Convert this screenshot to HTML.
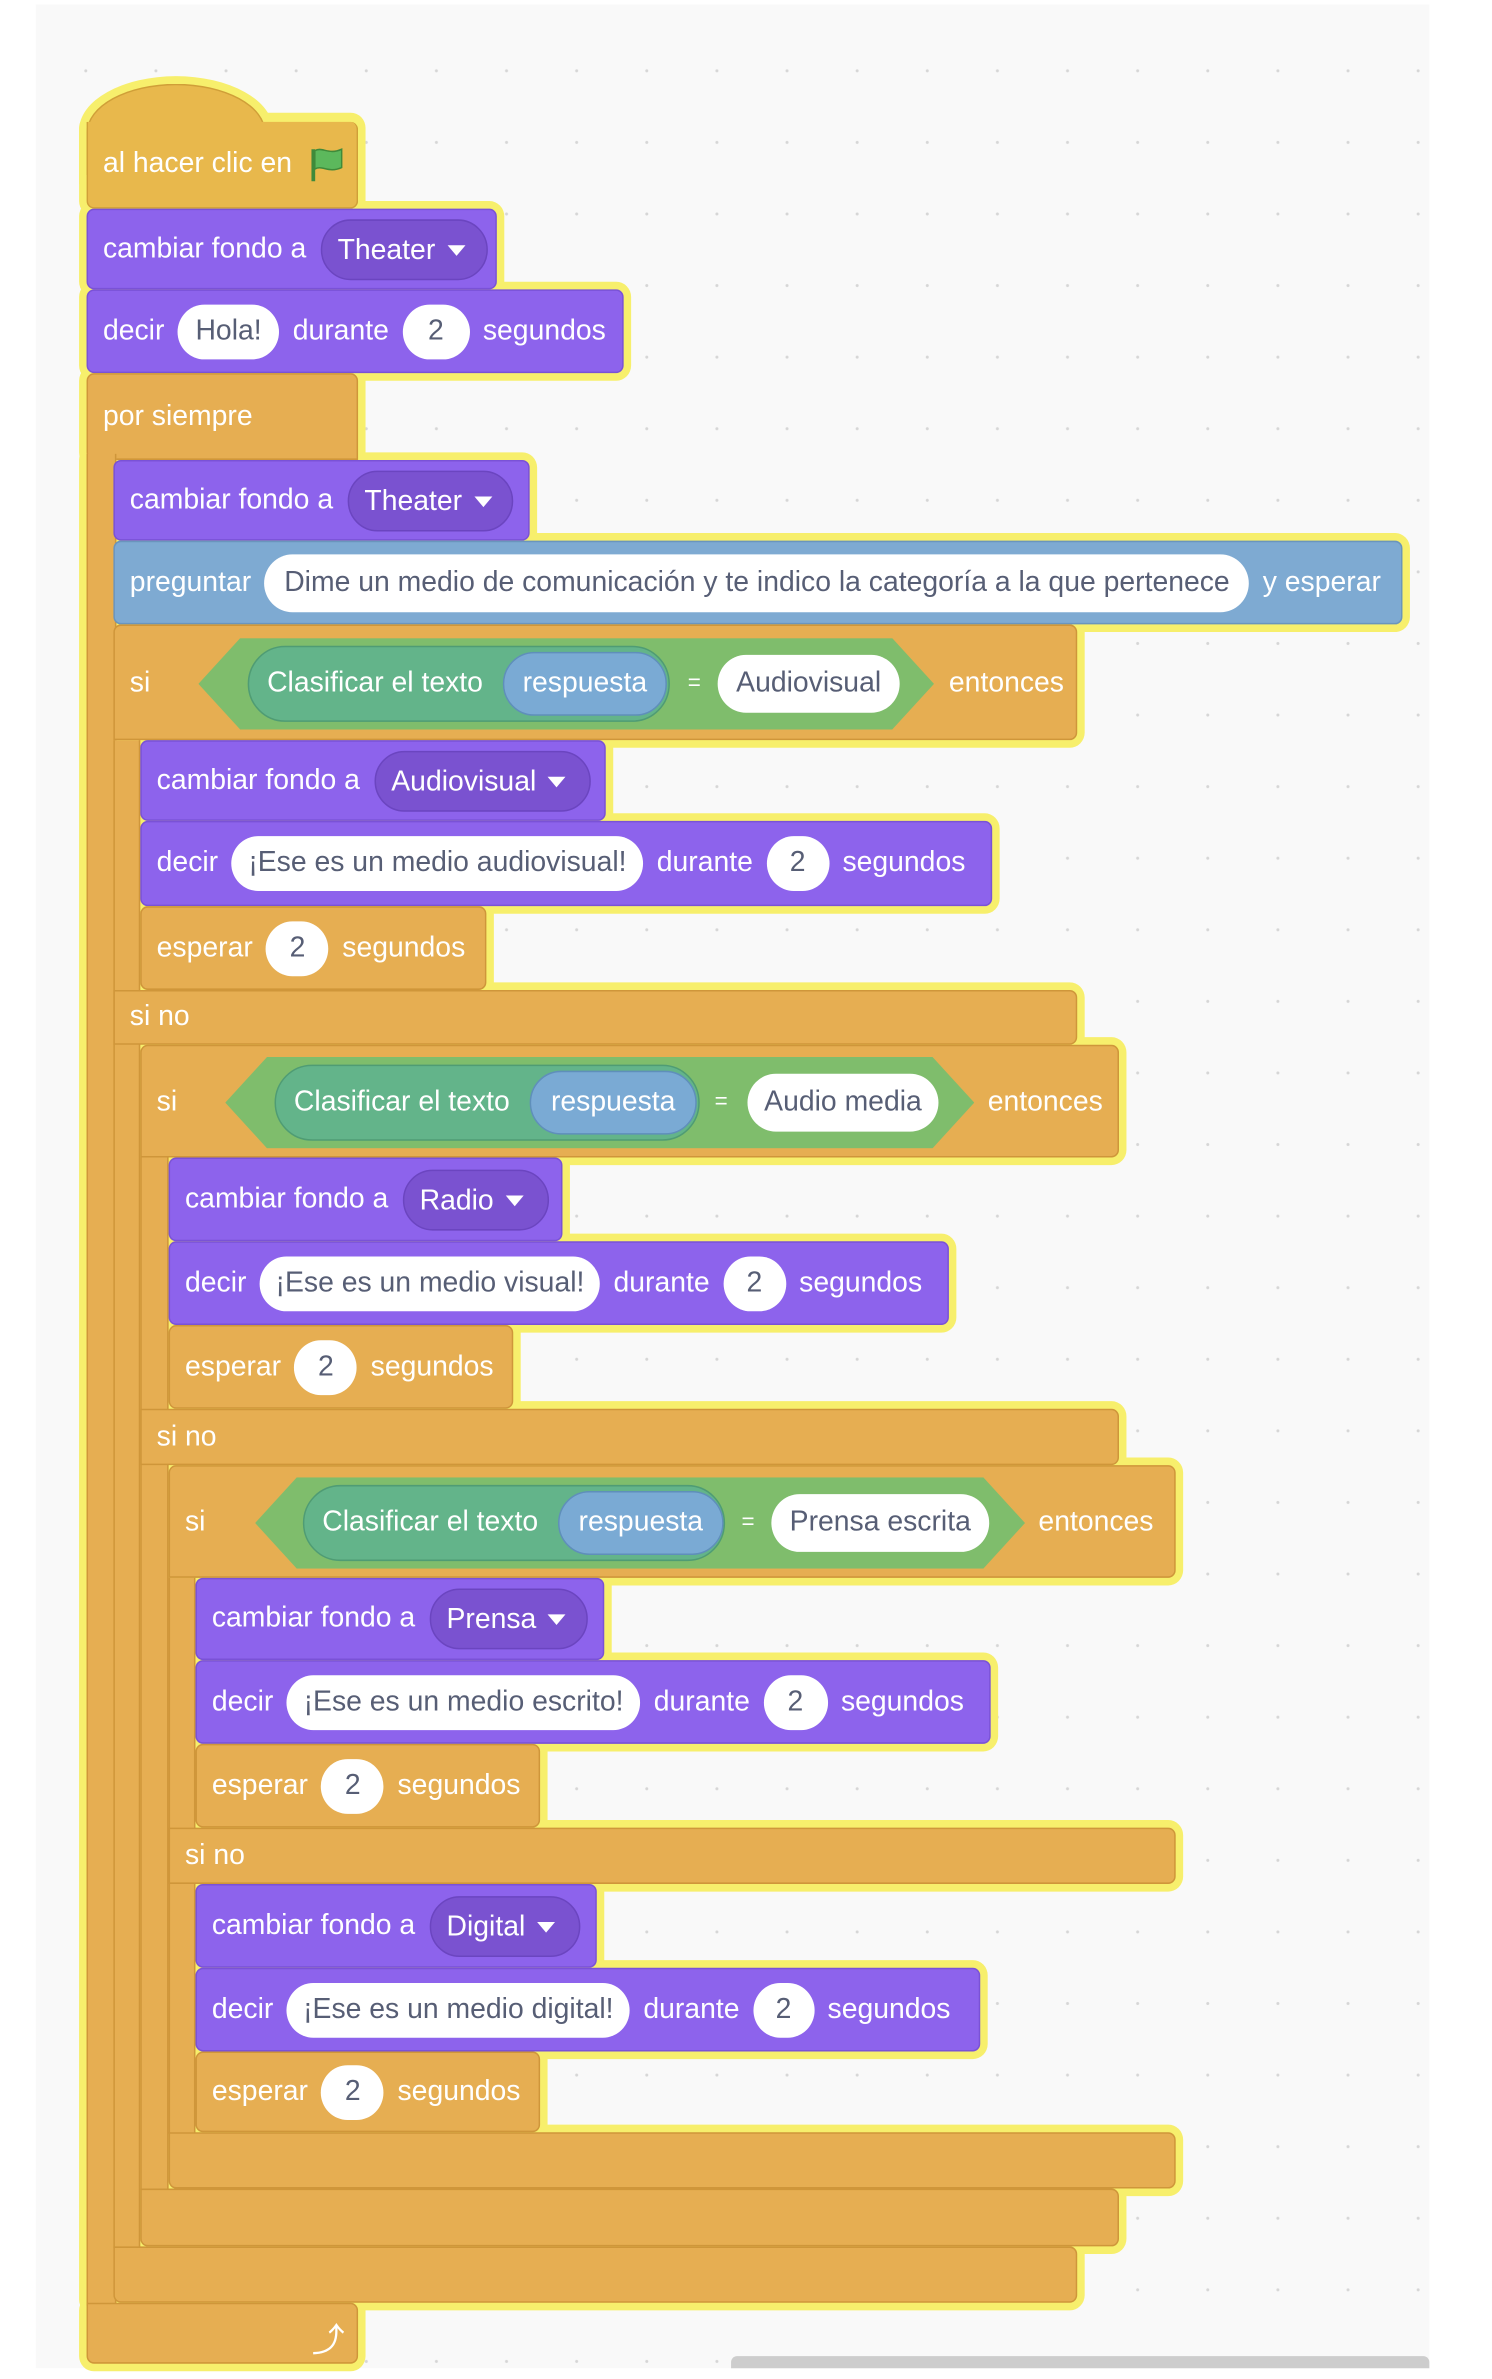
<!DOCTYPE html>
<html><head><meta charset="utf-8"><style>
html,body{margin:0;padding:0;background:#fff;}
body{width:1492px;height:2379px;overflow:hidden;position:relative;}
#s{position:absolute;left:0;top:0;width:1000px;height:1562px;transform-origin:0 0;transform:scale(1.492,1.523);z-index:0;font-family:"Liberation Sans",Arial,sans-serif;}
#cv{position:absolute;z-index:-5;left:24px;top:3px;width:934px;height:1552px;background-color:#f9f9f9;background-image:radial-gradient(circle,#d6d6d6 0.8px,transparent 1.2px);background-size:47px 47px;background-position:10px 20px;}
#sb{position:absolute;z-index:-4;left:490px;top:1547px;width:468px;height:8px;background:#cdcdcd;border-radius:4px 4px 0 0;}
.b{position:absolute;display:flex;align-items:center;gap:9px;padding-left:10px;box-sizing:border-box;border-radius:5px;color:#fff;font-size:19px;white-space:nowrap;}
.b::before{content:"";position:absolute;left:-6px;top:-6px;right:-6px;bottom:-6px;background:#f7ef6c;border-radius:10px;z-index:-1;}
.dome::before{border-radius:66px 66px 0 0/36px 36px 0 0;}
.p{background:#8d63ec;border:1px solid #7a52d6;}
.o{background:#e6ae52;border:1px solid #cf963a;}
.h{background:#e8b84c;border:1px solid #d09f38;}
.bl{background:#7eaad2;border:1px solid #6a95bd;}
.w{background:#fff;color:#575e75;border-radius:20px;height:36px;line-height:36px;padding:0 6px;box-sizing:border-box;text-align:center;flex:none;}
.dd{background:#7a52d0;border:1px solid #6b45c0;color:#fff;border-radius:21px;height:40px;line-height:40px;padding:0 10px;box-sizing:border-box;flex:none;}
.dd::after{content:"";display:inline-block;margin-left:8px;vertical-align:middle;border-left:6px solid transparent;border-right:6px solid transparent;border-top:7px solid #fff;}
.hex{position:absolute;top:8px;height:60px;background:#7fbd6c;clip-path:polygon(28px 0,calc(100% - 28px) 0,100% 50%,calc(100% - 28px) 100%,28px 100%,0 50%);}
.in{position:absolute;top:5px;height:50px;background:#63b48a;border:1px solid #4f9c74;box-sizing:border-box;border-radius:25px;color:#fff;line-height:48px;padding-left:12px;}
.rs{position:absolute;top:3px;height:42px;background:#7aaad4;border:1px solid #5f8fba;box-sizing:border-box;border-radius:21px;line-height:40px;text-align:center;color:#fff;}
.eq{position:absolute;top:0;line-height:60px;color:#fff;font-size:15px;}
.hv{position:absolute;top:11px;height:38px;line-height:38px;}
.t{position:absolute;line-height:20px;}
</style></head><body>
<div id="s">
<div id="cv"></div>
<div id="sb"></div>

<div class="b h dome" style="left:58px;top:55px;width:120px;height:60px;border-radius:60px 60px 0 0/32px 32px 0 0;border-bottom:none;"></div>
<div class="b h" style="left:58px;top:80px;width:182px;height:57px;border-radius:0 5px 5px 5px;border-top:none;">al hacer clic en
<svg width="26" height="24" viewBox="0 0 26 24" style="margin-left:2px"><path d="M3 2 V23" stroke="#3f8a3a" stroke-width="2.5"/><path d="M4 3 C9 0 13 6 22 2 V14 C13 18 9 12 4 15 Z" fill="#5cb85c" stroke="#3f8a3a" stroke-width="1"/></svg></div>
<div class="b p" style="left:58px;top:137px;width:275px;height:53px;">cambiar fondo a <span class="dd" style="width:112px;margin-left:1px">Theater</span></div>
<div class="b p" style="left:58px;top:190px;width:360px;height:55px;">decir <span class="w" style="width:68px">Hola!</span> durante <span class="w" style="width:45px">2</span> segundos</div>

<div class="b o" style="left:58px;top:245px;width:182px;height:57px;border-radius:5px 5px 0 5px;">por siempre</div>
<div class="b o" style="left:58px;top:298px;width:20px;height:1216px;border-radius:0;border-top:none;border-bottom:none;"></div>
<div class="b o" style="left:58px;top:1512px;width:182px;height:40px;border-radius:0 5px 5px 5px;"><span style="position:absolute;left:150px;top:6px;font-size:22px;font-family:'DejaVu Sans',sans-serif;">⤴</span></div>

<div class="b p" style="left:76px;top:302px;width:279px;height:53px;">cambiar fondo a <span class="dd" style="width:111px;margin-left:1px">Theater</span></div>
<div class="b bl" style="left:76px;top:355px;width:864px;height:55px;">preguntar <span class="w" style="width:660px;height:38px;line-height:38px;padding:0 4px">Dime un medio de comunicación y te indico la categoría a la que pertenece</span> y esperar</div>

<div class="b o" style="left:76px;top:486px;width:18px;height:990px;border-radius:0;border-top:none;border-bottom:none;"></div>
<div class="b o" style="left:76px;top:410px;width:646px;height:76px;border-radius:5px 5px 5px 0;">
 <span class="t" style="left:10px;top:28px">si</span>
 <div class="hex" style="left:56px;width:493px;">
  <div class="in" style="left:33px;width:283px;">Clasificar el texto<div class="rs" style="left:170px;width:110px;">respuesta</div></div>
  <span class="eq" style="left:328px">=</span>
  <span class="w hv" style="left:348px;width:122px;">Audiovisual</span>
 </div>
 <span class="t" style="left:559px;top:28px">entonces</span>
</div>
<div class="b p" style="left:94px;top:486px;width:312px;height:53px;">cambiar fondo a <span class="dd" style="width:145px;margin-left:1px">Audiovisual</span></div>
<div class="b p" style="left:94px;top:539px;width:571px;height:56px;">decir <span class="w" style="width:276px">¡Ese es un medio audiovisual!</span> durante <span class="w" style="width:42px">2</span> segundos</div>
<div class="b o" style="left:94px;top:595px;width:232px;height:55px;">esperar <span class="w" style="width:42px">2</span> segundos</div>
<div class="b o" style="left:76px;top:650px;width:646px;height:36px;border-radius:0 5px 5px 0;">si no</div>
<div class="b o" style="left:76px;top:1475px;width:646px;height:37px;border-radius:0 5px 5px 5px;"></div>

<div class="b o" style="left:94px;top:760px;width:19px;height:678px;border-radius:0;border-top:none;border-bottom:none;"></div>
<div class="b o" style="left:94px;top:686px;width:656px;height:74px;border-radius:5px 5px 5px 0;">
 <span class="t" style="left:10px;top:27px">si</span>
 <div class="hex" style="left:56px;width:502px;top:7px;">
  <div class="in" style="left:33px;width:285px;">Clasificar el texto<div class="rs" style="left:170px;width:112px;">respuesta</div></div>
  <span class="eq" style="left:328px">=</span>
  <span class="w hv" style="left:350px;width:128px;">Audio media</span>
 </div>
 <span class="t" style="left:567px;top:27px">entonces</span>
</div>
<div class="b p" style="left:113px;top:760px;width:264px;height:55px;">cambiar fondo a <span class="dd" style="width:98px;margin-left:1px">Radio</span></div>
<div class="b p" style="left:113px;top:815px;width:523px;height:55px;">decir <span class="w" style="width:228px">¡Ese es un medio visual!</span> durante <span class="w" style="width:42px">2</span> segundos</div>
<div class="b o" style="left:113px;top:870px;width:231px;height:55px;">esperar <span class="w" style="width:42px">2</span> segundos</div>
<div class="b o" style="left:94px;top:925px;width:656px;height:37px;border-radius:0 5px 5px 0;">si no</div>
<div class="b o" style="left:94px;top:1437px;width:656px;height:38px;border-radius:0 5px 5px 5px;"></div>

<div class="b o" style="left:113px;top:1036px;width:18px;height:365px;border-radius:0;border-top:none;border-bottom:none;"></div>
<div class="b o" style="left:113px;top:962px;width:675px;height:74px;border-radius:5px 5px 5px 0;">
 <span class="t" style="left:10px;top:27px">si</span>
 <div class="hex" style="left:57px;width:516px;top:7px;">
  <div class="in" style="left:32px;width:283px;">Clasificar el texto<div class="rs" style="left:170px;width:111px;">respuesta</div></div>
  <span class="eq" style="left:326px">=</span>
  <span class="w hv" style="left:346px;width:146px;">Prensa escrita</span>
 </div>
 <span class="t" style="left:582px;top:27px">entonces</span>
</div>
<div class="b p" style="left:131px;top:1036px;width:274px;height:54px;">cambiar fondo a <span class="dd" style="width:106px;margin-left:1px">Prensa</span></div>
<div class="b p" style="left:131px;top:1090px;width:533px;height:55px;">decir <span class="w" style="width:237px">¡Ese es un medio escrito!</span> durante <span class="w" style="width:43px">2</span> segundos</div>
<div class="b o" style="left:131px;top:1145px;width:231px;height:55px;">esperar <span class="w" style="width:42px">2</span> segundos</div>
<div class="b o" style="left:113px;top:1200px;width:675px;height:37px;border-radius:0 5px 5px 0;">si no</div>
<div class="b p" style="left:131px;top:1237px;width:269px;height:55px;">cambiar fondo a <span class="dd" style="width:101px;margin-left:1px">Digital</span></div>
<div class="b p" style="left:131px;top:1292px;width:526px;height:55px;">decir <span class="w" style="width:230px">¡Ese es un medio digital!</span> durante <span class="w" style="width:41px">2</span> segundos</div>
<div class="b o" style="left:131px;top:1347px;width:231px;height:53px;">esperar <span class="w" style="width:42px">2</span> segundos</div>
<div class="b o" style="left:113px;top:1400px;width:675px;height:37px;border-radius:0 5px 5px 5px;"></div>

</div>
</body></html>
